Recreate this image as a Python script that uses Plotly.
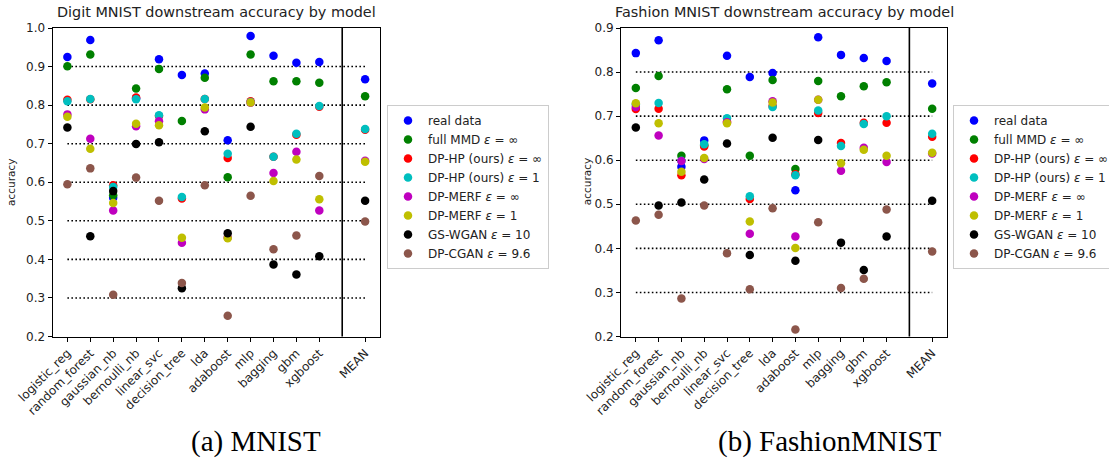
import plotly.graph_objects as go

categories = ["logistic_reg", "random_forest", "gaussian_nb", "bernoulli_nb", "linear_svc",
              "decision_tree", "lda", "adaboost", "mlp", "bagging", "gbm", "xgboost", "MEAN"]
cat_pos = [0, 1, 2, 3, 4, 5, 6, 7, 8, 9, 10, 11, 13]
separator_pos = 12

series_names = ["real data", "full MMD <i>ε</i> = ∞", "DP-HP (ours) <i>ε</i> = ∞",
                "DP-HP (ours) <i>ε</i> = 1", "DP-MERF <i>ε</i> = ∞", "DP-MERF <i>ε</i> = 1",
                "GS-WGAN <i>ε</i> = 10", "DP-CGAN <i>ε</i> = 9.6"]
series_colors = ["#0000ff", "#008000", "#ff0000", "#00bfbf", "#bf00bf", "#bfbf00", "#000000", "#8c564b"]

# Digit MNIST
mnist_real = [0.925, 0.969, 0.560, 0.818, 0.919, 0.878, 0.882, 0.709, 0.979, 0.928, 0.910, 0.912, 0.867]
mnist_fullmmd = [0.901, 0.931, 0.566, 0.843, 0.894, 0.759, 0.871, 0.613, 0.931, 0.862, 0.862, 0.858, 0.823]
mnist_dphp_inf = [0.814, 0.815, 0.592, 0.820, 0.772, 0.558, 0.816, 0.663, 0.810, 0.666, 0.723, 0.796, 0.736]
mnist_dphp_1 = [0.810, 0.816, 0.588, 0.815, 0.774, 0.562, 0.816, 0.674, 0.808, 0.666, 0.726, 0.798, 0.738]
mnist_merf_inf = [0.776, 0.713, 0.527, 0.745, 0.758, 0.443, 0.789, 0.457, 0.806, 0.624, 0.679, 0.527, 0.656]
mnist_merf_1 = [0.770, 0.687, 0.546, 0.752, 0.748, 0.456, 0.794, 0.455, 0.807, 0.603, 0.659, 0.556, 0.653]
mnist_gswgan = [0.742, 0.460, 0.577, 0.699, 0.704, 0.325, 0.732, 0.468, 0.744, 0.387, 0.361, 0.408, 0.552]
mnist_dpcgan = [0.595, 0.636, 0.308, 0.612, 0.552, 0.339, 0.592, 0.254, 0.565, 0.426, 0.462, 0.616, 0.498]

# Fashion MNIST
fashion_real = [0.843, 0.872, 0.585, 0.645, 0.837, 0.789, 0.798, 0.532, 0.879, 0.839, 0.832, 0.825, 0.774]
fashion_fullmmd = [0.764, 0.791, 0.610, 0.634, 0.761, 0.610, 0.782, 0.580, 0.780, 0.745, 0.768, 0.777, 0.717]
fashion_dphp_inf = [0.716, 0.717, 0.566, 0.631, 0.688, 0.512, 0.723, 0.568, 0.707, 0.639, 0.685, 0.685, 0.653]
fashion_dphp_1 = [0.727, 0.730, 0.599, 0.636, 0.695, 0.518, 0.721, 0.566, 0.713, 0.632, 0.682, 0.700, 0.660]
fashion_merf_inf = [0.721, 0.656, 0.598, 0.603, 0.686, 0.433, 0.734, 0.427, 0.737, 0.576, 0.628, 0.596, 0.615]
fashion_merf_1 = [0.729, 0.684, 0.574, 0.605, 0.684, 0.461, 0.731, 0.401, 0.737, 0.593, 0.624, 0.610, 0.617]
fashion_gswgan = [0.674, 0.497, 0.504, 0.556, 0.638, 0.385, 0.651, 0.372, 0.646, 0.413, 0.351, 0.427, 0.508]
fashion_dpcgan = [0.463, 0.476, 0.286, 0.497, 0.389, 0.307, 0.491, 0.216, 0.459, 0.310, 0.331, 0.488, 0.393]

mnist_series = [mnist_real, mnist_fullmmd, mnist_dphp_inf, mnist_dphp_1,
                mnist_merf_inf, mnist_merf_1, mnist_gswgan, mnist_dpcgan]
fashion_series = [fashion_real, fashion_fullmmd, fashion_dphp_inf, fashion_dphp_1,
                  fashion_merf_inf, fashion_merf_1, fashion_gswgan, fashion_dpcgan]

mnist_hlines = [0.3, 0.4, 0.5, 0.6, 0.7, 0.8, 0.9]
fashion_hlines = [0.3, 0.4, 0.5, 0.6, 0.7, 0.8]
mnist_yticks = [0.2, 0.3, 0.4, 0.5, 0.6, 0.7, 0.8, 0.9, 1.0]
fashion_yticks = [0.2, 0.3, 0.4, 0.5, 0.6, 0.7, 0.8, 0.9]

titles = ["Digit MNIST downstream accuracy by model", "Fashion MNIST downstream accuracy by model"]
captions = ["(a) MNIST", "(b) FashionMNIST"]

W, H = 1109, 466
FONT = "DejaVu Sans"

fig = go.Figure()

panels = [
    dict(series=mnist_series, hlines=mnist_hlines, xa="x", ya="y", legend="legend"),
    dict(series=fashion_series, hlines=fashion_hlines, xa="x2", ya="y2", legend="legend2"),
]

for p in panels:
    for v in p["hlines"]:
        fig.add_trace(go.Scatter(x=[cat_pos[0], cat_pos[-1]], y=[v, v], mode="lines",
                                 line=dict(color="black", width=1.6, dash="1.6px,2.4px"),
                                 xaxis=p["xa"], yaxis=p["ya"], showlegend=False, hoverinfo="skip"))
    for name, color, vals in zip(series_names, series_colors, p["series"]):
        fig.add_trace(go.Scatter(x=cat_pos, y=vals, mode="markers", name=name,
                                 marker=dict(color=color, size=8.5, line=dict(width=0)),
                                 xaxis=p["xa"], yaxis=p["ya"], legend=p["legend"]))

# axes geometry (pixels)
L1, R1 = 52.5, 380.0
L2, R2 = 621.0, 947.0
TOP, BOT = 28.0, 336.5

def xd(a, b):
    return [a / W, b / W]

ydom = [(H - BOT) / H, (H - TOP) / H]

common_x = dict(range=[-0.65, 13.65], tickmode="array", tickvals=cat_pos, ticktext=categories,
                tickangle=-45, ticks="outside", ticklen=4, tickwidth=1, tickcolor="black",
                showline=True, linecolor="black", linewidth=1, mirror=True, showgrid=False,
                zeroline=False, automargin=False,
                tickfont=dict(family=FONT, size=12, color="#222"))
common_y = dict(ticks="outside", ticklen=4, tickwidth=1, tickcolor="black", tickformat=".1f",
                showline=True, linecolor="black", linewidth=1, mirror=True, showgrid=False,
                zeroline=False, automargin=False,
                tickfont=dict(family=FONT, size=12, color="#222"))

legend_common = dict(font=dict(family=FONT, size=12, color="#222"), bgcolor="white",
                     bordercolor="#cccccc", borderwidth=1, xanchor="left", yanchor="top",
                     itemclick=False)

fig.update_layout(
    width=W, height=H, autosize=False,
    margin=dict(l=0, r=0, t=0, b=0, autoexpand=False),
    paper_bgcolor="white", plot_bgcolor="white",
    xaxis=dict(domain=xd(L1, R1), anchor="y", **common_x),
    yaxis=dict(domain=ydom, anchor="x", range=[0.2, 1.0], tickvals=mnist_yticks, **common_y),
    xaxis2=dict(domain=xd(L2, R2), anchor="y2", **common_x),
    yaxis2=dict(domain=ydom, anchor="x2", range=[0.2, 0.9], tickvals=fashion_yticks, **common_y),
    legend=dict(x=387 / W, y=1 - 105 / H, **legend_common),
    legend2=dict(x=953 / W, y=1 - 105 / H, **legend_common),
    showlegend=True,
)

# separator lines before MEAN
for xa in ["x", "x2"]:
    fig.add_shape(type="line", xref=xa, yref=("y domain" if xa == "x" else "y2 domain"),
                  x0=separator_pos, x1=separator_pos, y0=0, y1=1,
                  line=dict(color="black", width=1.6))

# titles
for t, (a, b) in zip(titles, [(L1, R1), (L2, R2)]):
    fig.add_annotation(text=t, x=(a + b) / 2 / W, y=1 - 12 / H, xref="paper", yref="paper",
                       xanchor="center", yanchor="middle", showarrow=False,
                       font=dict(family=FONT, size=14.4, color="#222"))

# y labels
for xp in [11.7, 587.0]:
    fig.add_annotation(text="accuracy", x=xp / W, y=1 - ((TOP + BOT) / 2) / H, xref="paper",
                       yref="paper", xanchor="center", yanchor="middle", textangle=-90,
                       showarrow=False, font=dict(family=FONT, size=10.5, color="#222"))

# captions
for c, xc in zip(captions, [256, 829]):
    fig.add_annotation(text=c, x=xc / W, y=1 - 441 / H, xref="paper", yref="paper",
                       xanchor="center", yanchor="middle", showarrow=False,
                       font=dict(family="Liberation Serif", size=29, color="black"))

fig.write_html("out.html")
